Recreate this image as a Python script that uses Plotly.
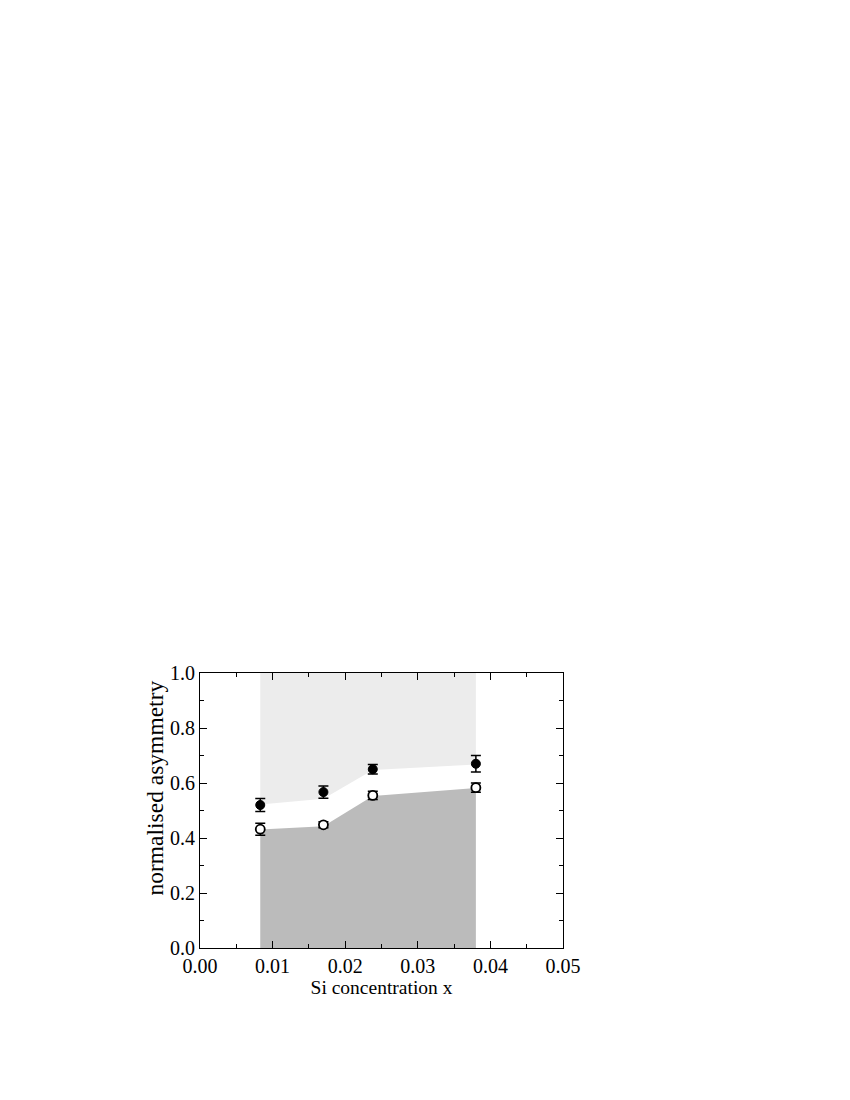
import plotly.graph_objects as go

# Si concentration and asymmetry values
si_x = [0.0083, 0.017, 0.0238, 0.038]

filled_y = [0.520, 0.567, 0.650, 0.670]
filled_err = [0.024, 0.022, 0.017, 0.030]

open_y = [0.432, 0.448, 0.555, 0.583]
open_err = [0.022, 0.011, 0.015, 0.017]

# shaded band boundaries
dark_top = [0.431, 0.443, 0.553, 0.582]
light_bottom = [0.522, 0.543, 0.647, 0.667]
top_edge = [1.0, 1.0, 1.0, 1.0]

fig = go.Figure()

# dark grey region (from zero up to dark_top)
fig.add_trace(go.Scatter(x=si_x, y=dark_top, mode='lines', line=dict(width=0),
                         fill='tozeroy', fillcolor='#bbbbbb', hoverinfo='skip', showlegend=False))

# light grey region (light_bottom up to 1.0)
fig.add_trace(go.Scatter(x=si_x, y=light_bottom, mode='lines', line=dict(width=0),
                         hoverinfo='skip', showlegend=False))
fig.add_trace(go.Scatter(x=si_x, y=top_edge, mode='lines', line=dict(width=0),
                         fill='tonexty', fillcolor='#ececec', hoverinfo='skip', showlegend=False))

# open symbols
fig.add_trace(go.Scatter(
    x=si_x, y=open_y, mode='markers',
    marker=dict(symbol='circle', size=9, color='white', line=dict(color='black', width=1.8)),
    error_y=dict(type='data', array=open_err, color='black', thickness=1.5, width=5),
    showlegend=False))

# filled symbols
fig.add_trace(go.Scatter(
    x=si_x, y=filled_y, mode='markers',
    marker=dict(symbol='circle', size=9, color='black', line=dict(color='black', width=1)),
    error_y=dict(type='data', array=filled_err, color='black', thickness=1.5, width=5),
    showlegend=False))

# page has an 8px body margin, so the margins are shifted by that amount
fig.update_layout(
    width=850, height=1100,
    margin=dict(l=192, r=295, t=665, b=160),
    plot_bgcolor='white', paper_bgcolor='white',
    font=dict(family='Liberation Serif, Times New Roman, serif', size=20, color='black'),
)

# y title sits a bit above the axis centre in the original, so use an annotation
fig.add_annotation(
    text='normalised asymmetry', textangle=-90,
    xref='paper', yref='paper', x=0, y=0.58,
    xanchor='center', yanchor='middle', xshift=-46,
    showarrow=False, font=dict(size=23.5),
)

fig.update_xaxes(
    range=[0, 0.05], dtick=0.01, tickformat='.2f',
    showgrid=False, zeroline=False,
    showline=True, linecolor='black', linewidth=1.2, mirror='allticks',
    ticks='inside', ticklen=7, tickwidth=1.2, tickcolor='black',
    minor=dict(dtick=0.005, ticks='inside', ticklen=4, tickwidth=1.2, tickcolor='black', showgrid=False),
    title=dict(text='Si concentration x', font=dict(size=19.5), standoff=0),
    tickfont=dict(size=20),
)
fig.update_yaxes(
    range=[0, 1.0], dtick=0.2, tickformat='.1f',
    showgrid=False, zeroline=False,
    showline=True, linecolor='black', linewidth=1.2, mirror='allticks',
    ticks='inside', ticklen=7, tickwidth=1.2, tickcolor='black',
    minor=dict(dtick=0.1, ticks='inside', ticklen=4, tickwidth=1.2, tickcolor='black', showgrid=False),
    tickfont=dict(size=20),
)

fig.write_html("out.html")
